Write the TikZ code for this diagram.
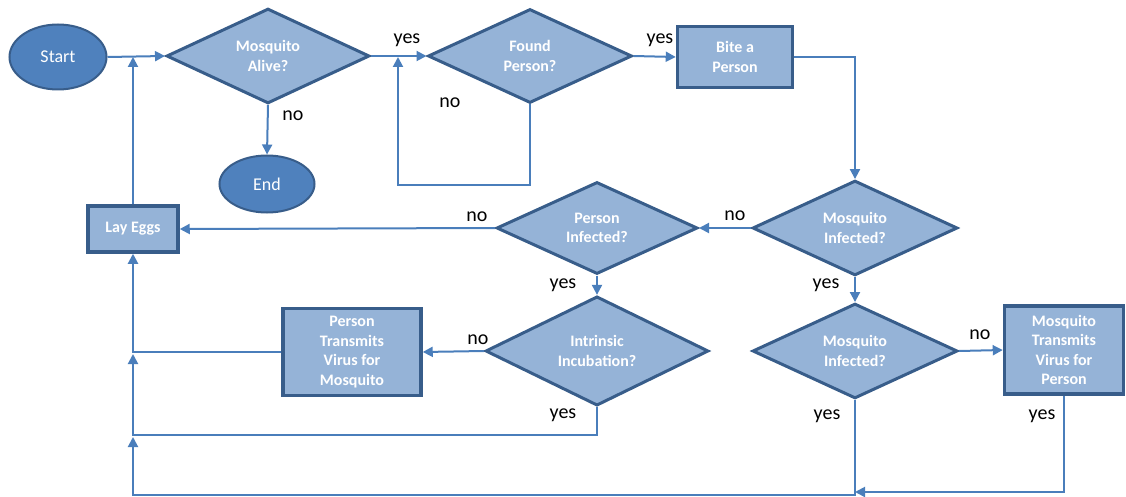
\documentclass[tikz,border=0pt]{standalone}
\usepackage{fontspec}
\setmainfont{Carlito}
\usetikzlibrary{shapes.geometric,arrows.meta}
\definecolor{darkfill}{HTML}{4F81BD}
\definecolor{lightfill}{HTML}{95B3D7}
\definecolor{edge}{HTML}{385D8A}
\definecolor{wire}{HTML}{4A7EBB}
\begin{document}
\begin{tikzpicture}[x=1pt,y=-1pt,
  terminal/.style={ellipse, draw=edge, line width=2pt, fill=darkfill, text=white,
    font=\fontsize{18}{21}\selectfont, inner sep=0pt},
  decision/.style={diamond, draw=edge, line width=3pt, fill=lightfill, text=white,
    font=\bfseries\fontsize{16}{19.5}\selectfont, align=center, inner sep=0pt},
  process/.style={rectangle, draw=edge, line width=3.5pt, fill=lightfill, text=white,
    font=\bfseries\fontsize{16}{19.5}\selectfont, align=center, inner sep=0pt},
  link/.style={draw=wire, line width=2pt},
  flow/.style={link, -{Triangle[length=10pt,width=10pt]}},
  lbl/.style={font=\fontsize{20}{24}\selectfont, text=black, inner sep=0pt}
]
\useasboundingbox (0,0) rectangle (1126,497);

% nodes
\node[terminal, minimum width=97pt, minimum height=65pt] (start) at (58,57) {Start};
\node[decision, minimum width=203pt, minimum height=94pt] (alive) at (268,56) {Mosquito\\Alive?};
\node[terminal, minimum width=95pt, minimum height=57pt] (stop) at (267,184) {End};
\node[decision, minimum width=204pt, minimum height=94pt] (found) at (530,56) {Found\\Person?};
\node[process, minimum width=115pt, minimum height=61pt] (bite) at (735,57) {Bite a\\Person};
\node[decision, minimum width=205pt, minimum height=92pt] (minfa) at (855,228) {Mosquito\\Infected?};
\node[decision, minimum width=201pt, minimum height=92pt] (pinf) at (597,228) {Person\\Infected?};
\node[process, minimum width=90pt, minimum height=46pt] (lay) at (133,229) {Lay Eggs};
\node[decision, minimum width=223pt, minimum height=94pt] (intr) at (597,351) {Intrinsic\\Incubation?};
\node[process, minimum width=138pt, minimum height=87pt] (pt) at (352,352) {Person\\Transmits\\Virus for\\Mosquito};
\node[decision, minimum width=205pt, minimum height=94pt] (minfb) at (855,351) {Mosquito\\Infected?};
\node[process, minimum width=119pt, minimum height=88pt] (mt) at (1064,350) {Mosquito\\Transmits\\Virus for\\Person};

% junction points on the return lines
\coordinate (jtop) at (133,57);
\coordinate (jloop) at (398,57);
\coordinate (jpt) at (133,354);
\coordinate (jyes) at (133,437);
\coordinate (jbot) at (855,492);

% connectors
\draw[flow] (start.east) -- (alive.west);
\draw[flow] (alive.east) -- (found.west);
\draw[flow] (alive.south) -- (stop.north);
\draw[flow] (found.south) -- ++(0,81) -| (jloop);
\draw[flow] (found.east) -- (bite.west);
\draw[flow] (bite.east) -| (minfa.north);
\draw[flow] (minfa.west) -- (pinf.east);
\draw[flow] (pinf.west) -- (lay.east);
\draw[flow] (pinf.south) -- (intr.north);
\draw[flow] (intr.west) -- (pt.east);
\draw[flow] (minfa.south) -- (minfb.north);
\draw[flow] (minfb.east) -- (mt.west);
\draw[flow] (lay.north) -- (jtop);
\draw[flow] (pt.west) -| (lay.south);
\draw[flow] (intr.south) |- (133,435) -- (jpt);
\draw[flow] (minfb.south) |- (133,495) -- (jyes);
\draw[flow] (mt.south) |- (jbot);

% branch labels
\node[lbl] (l1) at (407,40) {yes};
\node[lbl] (l2) at (293,116) {no};
\node[lbl] (l3) at (450,103) {no};
\node[lbl] (l4) at (660,40) {yes};
\node[lbl] (l5) at (735,216) {no};
\node[lbl] (l6) at (477,217) {no};
\node[lbl] (l7) at (563,285) {yes};
\node[lbl] (l8) at (826,285) {yes};
\node[lbl] (l9) at (478,340) {no};
\node[lbl] (l10) at (980,335) {no};
\node[lbl] (l11) at (563,415) {yes};
\node[lbl] (l12) at (827,416) {yes};
\node[lbl] (l13) at (1042,416) {yes};
\end{tikzpicture}
\end{document}
